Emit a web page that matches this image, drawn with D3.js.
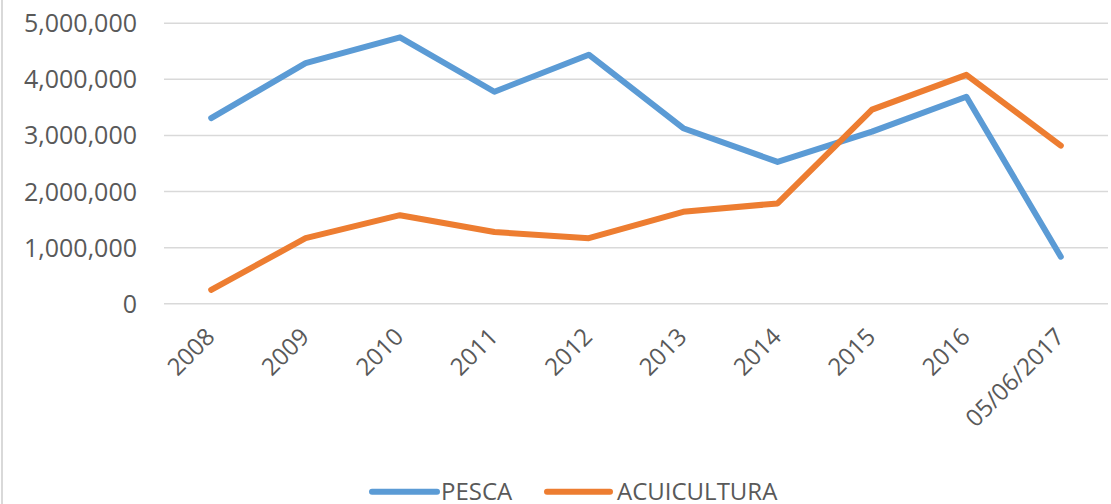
<!DOCTYPE html>
<html>
<head>
<meta charset="utf-8">
<script src="https://cdn.jsdelivr.net/npm/d3@7"></script>
<style>
  html, body { margin: 0; padding: 0; background: #fff; }
  svg { display: block; }
  svg text { font-family: "Open Sans", sans-serif; }
</style>
</head>
<body>
<svg id="chart" width="1111" height="504"></svg>
<script>
// ==== Data ====
const categories = ["2008","2009","2010","2011","2012","2013","2014","2015","2016","05/06/2017"];
const pesca      = [3300000, 4280000, 4740000, 3770000, 4430000, 3120000, 2520000, 3060000, 3680000, 830000];
const acuicultura = [240000, 1160000, 1570000, 1270000, 1160000, 1630000, 1780000, 3450000, 4070000, 2810000];
const yTicks = [0, 1000000, 2000000, 3000000, 4000000, 5000000];
const seriesNames = ["PESCA", "ACUICULTURA"];
const seriesColors = ["#5B9BD5", "#ED7D31"];

// ==== Layout ====
const svg = d3.select("#chart");
const W = 1111, H = 504;
const plot = { left: 164, right: 1108, top: 22.7, bottom: 303.3 };
const textColor = "#595959";
const fontFam = "'Open Sans', sans-serif";

const x = d3.scaleBand().domain(categories).range([plot.left, plot.right]);
const y = d3.scaleLinear().domain([0, 5000000]).range([plot.bottom, plot.top]);

// left border of the chart frame
svg.append("line")
  .attr("x1", 2).attr("x2", 2).attr("y1", 0).attr("y2", H)
  .attr("stroke", "#d9d9d9").attr("stroke-width", 2);

// ==== Gridlines + y axis ====
const yAxis = d3.axisLeft(y)
  .tickValues(yTicks)
  .tickSize(-(plot.right - plot.left))
  .tickPadding(27)
  .tickFormat(d3.format(","));

const gy = svg.append("g")
  .attr("transform", `translate(${plot.left},0)`)
  .call(yAxis)
  .attr("font-family", fontFam);
gy.select(".domain").remove();
gy.selectAll(".tick line").attr("stroke", "#d9d9d9").attr("stroke-width", 1.5);
gy.selectAll(".tick text")
  .attr("fill", textColor)
  .style("font-size", "25px")
  .attr("dy", "0.36em");

// ==== x axis labels (rotated -45°) ====
const xAxis = d3.axisBottom(x).tickSize(0).tickPadding(0);
const gx = svg.append("g")
  .attr("transform", `translate(0,${plot.bottom})`)
  .call(xAxis)
  .attr("font-family", fontFam);
gx.select(".domain").remove();
gx.selectAll(".tick text")
  .attr("fill", textColor)
  .style("font-size", "24px")
  .attr("text-anchor", "end")
  .attr("dy", 0)
  .attr("y", 0)
  .attr("transform", "translate(5,35) rotate(-45)");

// ==== Lines ====
const line = d3.line()
  .x((d, i) => x(categories[i]) + x.bandwidth() / 2)
  .y(d => y(d));

[pesca, acuicultura].forEach((vals, i) => {
  svg.append("path")
    .datum(vals)
    .attr("fill", "none")
    .attr("stroke", seriesColors[i])
    .attr("stroke-width", 6)
    .attr("stroke-linejoin", "round")
    .attr("stroke-linecap", "round")
    .attr("d", line);
});

// ==== Legend (cut off at the bottom edge, as in the original) ====
const legendY = 491.7;
const legendItems = [
  { x1: 372, x2: 437, tx: 441 },
  { x1: 547, x2: 610, tx: 617 }
];
legendItems.forEach((it, i) => {
  svg.append("line")
    .attr("x1", it.x1).attr("x2", it.x2)
    .attr("y1", legendY).attr("y2", legendY)
    .attr("stroke", seriesColors[i])
    .attr("stroke-width", 6)
    .attr("stroke-linecap", "round");
  svg.append("text")
    .attr("x", it.tx).attr("y", 500)
    .attr("fill", textColor)
    .style("font-size", "24px")
    .text(seriesNames[i]);
});
</script>
</body>
</html>
